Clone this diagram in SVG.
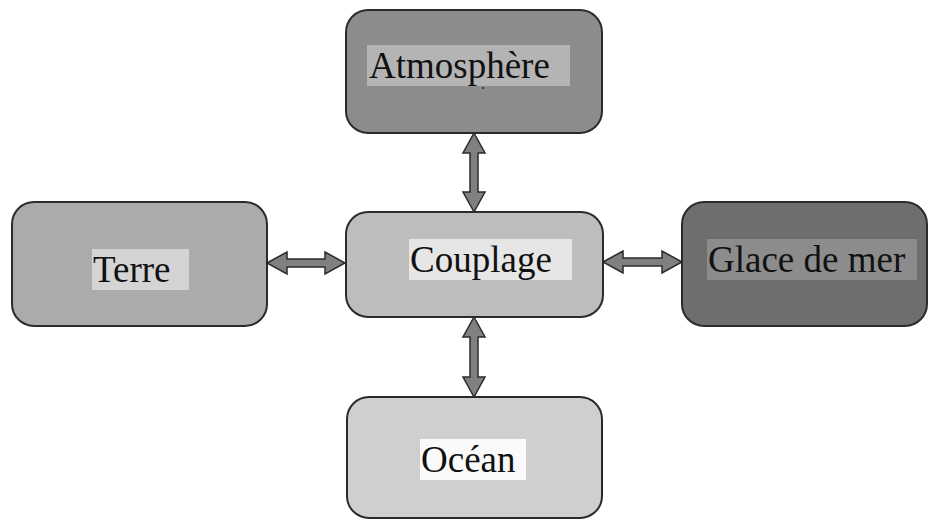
<svg xmlns="http://www.w3.org/2000/svg" width="929" height="520" viewBox="0 0 929 520">
<style>
.box{stroke:#2b2b2b;stroke-width:2}
.lbl{font-family:"Liberation Serif","Times New Roman",serif;font-size:37px;fill:#111}
.arr{fill:#808080;stroke:#2b2b2b;stroke-width:1.5;stroke-linejoin:miter}
</style>
<rect width="929" height="520" fill="#ffffff"/>
<g id="connectors">
<path class="arr" d="M474,133 L485,153 L478,153 L478,192 L485,192 L474,212 L463,192 L470,192 L470,153 L463,153 Z"/>
<path class="arr" d="M474,317 L485,337 L478,337 L478,377 L485,377 L474,397 L463,377 L470,377 L470,337 L463,337 Z"/>
<path class="arr" d="M267,263 L287,252 L287,259 L325,259 L325,252 L345,263 L325,274 L325,267 L287,267 L287,274 Z"/>
<path class="arr" d="M603,262 L623,251 L623,258 L662,258 L662,251 L682,262 L662,273 L662,266 L623,266 L623,273 Z"/>
</g>
<g id="atmosphere">
<rect class="box" x="346" y="10" width="256" height="123" rx="22" fill="#8c8c8c"/>
<rect x="367" y="45" width="203" height="41" fill="#b4b4b4"/>
<text class="lbl" x="369" y="78">Atmosphère</text>
<circle cx="483" cy="88" r="1" fill="#222"/>
</g>
<g id="couplage">
<rect class="box" x="346" y="212" width="257" height="105" rx="22" fill="#bdbdbd"/>
<rect x="409" y="239" width="163" height="41" fill="#e6e6e6"/>
<text class="lbl" x="410" y="272">Couplage</text>
</g>
<g id="terre">
<rect class="box" x="12" y="202" width="255" height="124" rx="22" fill="#ababab"/>
<rect x="92" y="249" width="97" height="41" fill="#d4d4d4"/>
<text class="lbl" x="93" y="282">Terre</text>
</g>
<g id="glace">
<rect class="box" x="682" y="202" width="245" height="124" rx="22" fill="#6e6e6e"/>
<rect x="707" y="239" width="210" height="41" fill="#8c8c8c"/>
<text class="lbl" x="708" y="272">Glace de mer</text>
</g>
<g id="ocean">
<rect class="box" x="347" y="397" width="255" height="121" rx="22" fill="#cfcfcf"/>
<rect x="420" y="439" width="106" height="41" fill="#fafafa"/>
<text class="lbl" x="421" y="472">Océan</text>
</g>
</svg>
